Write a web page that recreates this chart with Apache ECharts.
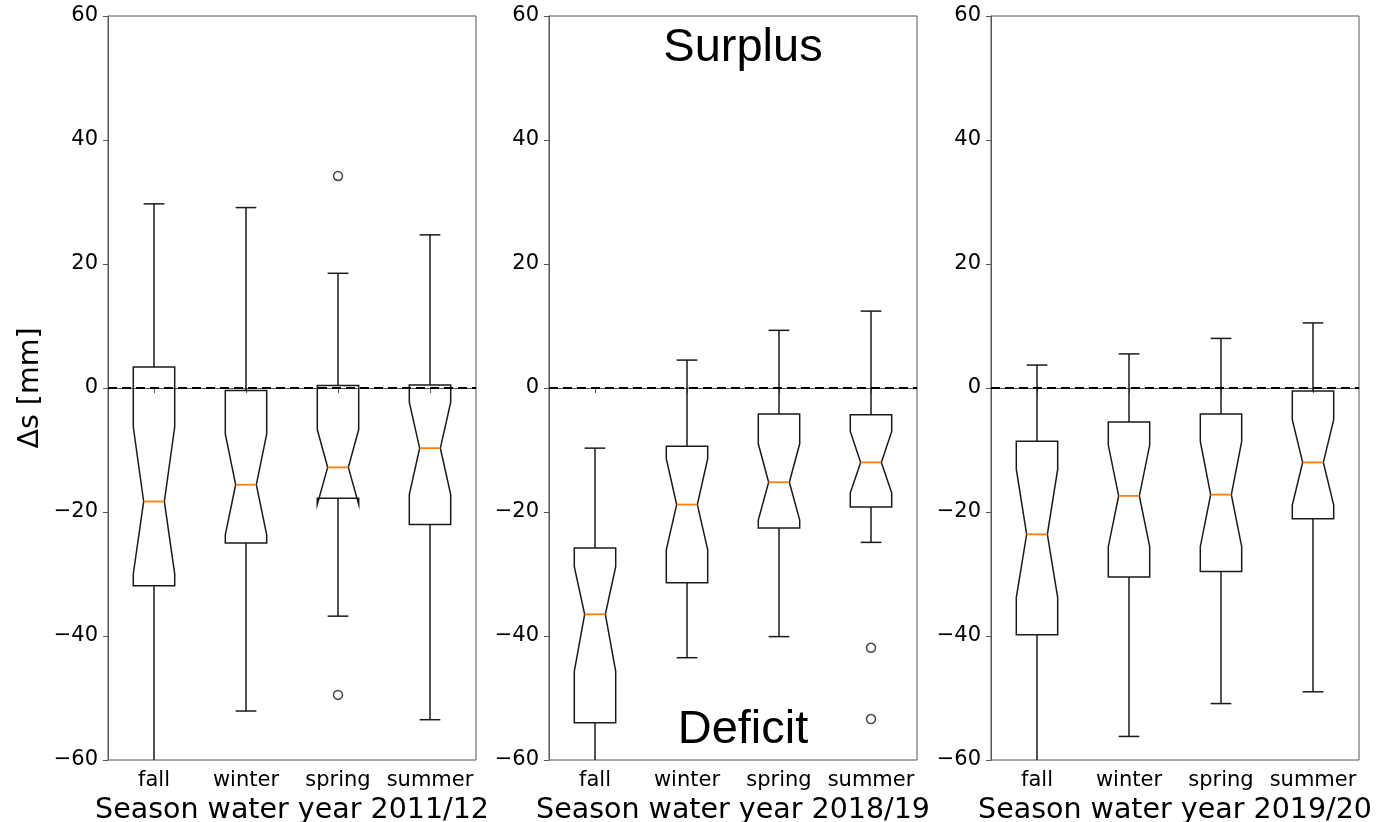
<!DOCTYPE html>
<html>
<head>
<meta charset="utf-8">
<script src="https://cdn.jsdelivr.net/npm/echarts@6/dist/echarts.min.js"></script>
<style>
  html, body { margin: 0; padding: 0; background: #fff; }
  #chart { width: 1378px; height: 822px; }
</style>
</head>
<body>
<div id="chart"></div>
<script>
// seasons on every x axis
const seasons = ['fall', 'winter', 'spring', 'summer'];
const yearNames = ['Season water year 2011/12', 'Season water year 2018/19', 'Season water year 2019/20'];

// per season: [lower whisker, Q1, notch low, median, notch high, Q3, upper whisker]
const box2011 = [
  [-64.0, -31.9, -30.0, -18.3, -6.3, 3.4, 29.7],
  [-52.1, -25.0, -23.7, -15.6, -7.4, -0.4, 29.1],
  [-36.8, -17.8, -18.8, -12.8, -6.7, 0.4, 18.5],
  [-53.5, -22.0, -17.2, -9.7, -2.3, 0.5, 24.7]
];
const box2018 = [
  [-68.0, -54.0, -45.7, -36.5, -28.8, -25.8, -9.7],
  [-43.5, -31.4, -26.1, -18.8, -11.4, -9.4, 4.5],
  [-40.1, -22.6, -21.3, -15.2, -9.0, -4.2, 9.3],
  [-24.9, -19.2, -16.9, -12.0, -7.0, -4.3, 12.4]
];
const box2019 = [
  [-66.0, -39.8, -33.8, -23.6, -13.1, -8.6, 3.7],
  [-56.2, -30.5, -25.6, -17.4, -9.2, -5.5, 5.5],
  [-50.9, -29.6, -25.6, -17.2, -8.6, -4.2, 8.0],
  [-49.0, -21.1, -18.9, -12.0, -5.1, -0.5, 10.5]
];

// outliers: [season index, value]
const out2011 = [[2, 34.2], [2, -49.5]];
const out2018 = [[3, -41.9], [3, -53.4]];
const out2019 = [];

const yTicks = { min: -60, max: 60, step: 20 };

const boxes = [box2011, box2018, box2019];
const outliers = [out2011, out2018, out2019];
const gridLefts = [108, 549, 991];

var chart = echarts.init(document.getElementById('chart'));

function renderBox(params, api) {
  var x = api.value(0);
  var lo = api.coord([x, api.value(1)]);
  var q1 = api.coord([x, api.value(2)]);
  var nlo = api.coord([x, api.value(3)]);
  var med = api.coord([x, api.value(4)]);
  var nhi = api.coord([x, api.value(5)]);
  var q3 = api.coord([x, api.value(6)]);
  var hi = api.coord([x, api.value(7)]);
  var cx = med[0];
  var w = api.size([1, 0])[0] * 0.45;
  var h = w / 2, q = w / 4;
  var lineStyle = { stroke: '#1a1a1a', lineWidth: 1.5, fill: null };
  return {
    type: 'group',
    children: [
      { type: 'line', shape: { x1: cx, y1: q3[1], x2: cx, y2: hi[1] }, style: lineStyle },
      { type: 'line', shape: { x1: cx, y1: q1[1], x2: cx, y2: lo[1] }, style: lineStyle },
      { type: 'line', shape: { x1: cx - q, y1: hi[1], x2: cx + q, y2: hi[1] }, style: lineStyle },
      { type: 'line', shape: { x1: cx - q, y1: lo[1], x2: cx + q, y2: lo[1] }, style: lineStyle },
      {
        type: 'polygon',
        shape: {
          points: [
            [cx - h, q1[1]], [cx + h, q1[1]], [cx + h, nlo[1]], [cx + q, med[1]],
            [cx + h, nhi[1]], [cx + h, q3[1]], [cx - h, q3[1]], [cx - h, nhi[1]],
            [cx - q, med[1]], [cx - h, nlo[1]]
          ]
        },
        style: { stroke: '#1a1a1a', lineWidth: 1.5, fill: null }
      },
      { type: 'line', shape: { x1: cx - q, y1: med[1], x2: cx + q, y2: med[1] }, style: { stroke: '#ff7f0e', lineWidth: 1.8 } }
    ]
  };
}

var grids = [], xAxes = [], yAxes = [], series = [];
for (var i = 0; i < 3; i++) {
  grids.push({
    left: gridLefts[i], width: 368, top: 16, height: 744,
    outerBoundsMode: 'none',
    containLabel: false,
    show: true, borderColor: '#555', borderWidth: 1, backgroundColor: 'transparent'
  });
  xAxes.push({
    gridIndex: i,
    type: 'category',
    data: seasons,
    boundaryGap: true,
    name: yearNames[i],
    nameLocation: 'middle',
    nameGap: 33,
    nameTextStyle: { fontFamily: 'DejaVu Sans', fontSize: 28.5, color: '#000' },
    axisLine: { show: true, lineStyle: { color: '#555', width: 1 } },
    axisTick: { show: true, alignWithLabel: true, length: 5, lineStyle: { color: '#555' } },
    axisLabel: { interval: 0, margin: 10, fontFamily: 'DejaVu Sans', fontSize: 21, color: '#000' },
    splitLine: { show: false }
  });
  yAxes.push({
    gridIndex: i,
    type: 'value',
    min: yTicks.min,
    max: yTicks.max,
    interval: yTicks.step,
    name: i === 0 ? 'Δs [mm]' : '',
    nameLocation: 'middle',
    nameGap: 63,
    nameTextStyle: { fontFamily: 'DejaVu Sans', fontSize: 28.5, color: '#000' },
    axisLine: { show: true, lineStyle: { color: '#555', width: 1 } },
    axisTick: { show: true, length: 5, lineStyle: { color: '#555' } },
    axisLabel: {
      margin: 10, fontFamily: 'DejaVu Sans', fontSize: 21, color: '#000',
      formatter: function (v) { return String(v).replace('-', '\u2212'); }
    },
    splitLine: { show: false }
  });
  series.push({
    type: 'custom',
    xAxisIndex: i,
    yAxisIndex: i,
    clip: true,
    renderItem: renderBox,
    encode: { x: 0, y: [1, 2, 3, 4, 5, 6, 7] },
    data: boxes[i].map(function (b, k) { return [k].concat(b); }),
    z: 2
  });
  series.push({
    type: 'scatter',
    xAxisIndex: i,
    yAxisIndex: i,
    symbol: 'circle',
    symbolSize: 9,
    itemStyle: { color: '#fff', borderColor: '#1a1a1a', borderWidth: 1.5 },
    data: outliers[i],
    markLine: {
      silent: true,
      symbol: 'none',
      label: { show: false },
      lineStyle: { color: '#000', width: 2, type: [9, 5] },
      data: [{ yAxis: 0 }]
    },
    z: 3
  });
}

chart.setOption({
  animation: false,
  backgroundColor: '#fff',
  grid: grids,
  xAxis: xAxes,
  yAxis: yAxes,
  series: series,
  graphic: [
    { type: 'text', x: 743, y: 48, style: { text: 'Surplus', fontFamily: 'Liberation Sans', fontSize: 47, fill: '#000', textAlign: 'center', textVerticalAlign: 'middle' }, z: 10 },
    { type: 'text', x: 743, y: 730, style: { text: 'Deficit', fontFamily: 'Liberation Sans', fontSize: 47, fill: '#000', textAlign: 'center', textVerticalAlign: 'middle' }, z: 10 }
  ]
});
</script>
</body>
</html>
